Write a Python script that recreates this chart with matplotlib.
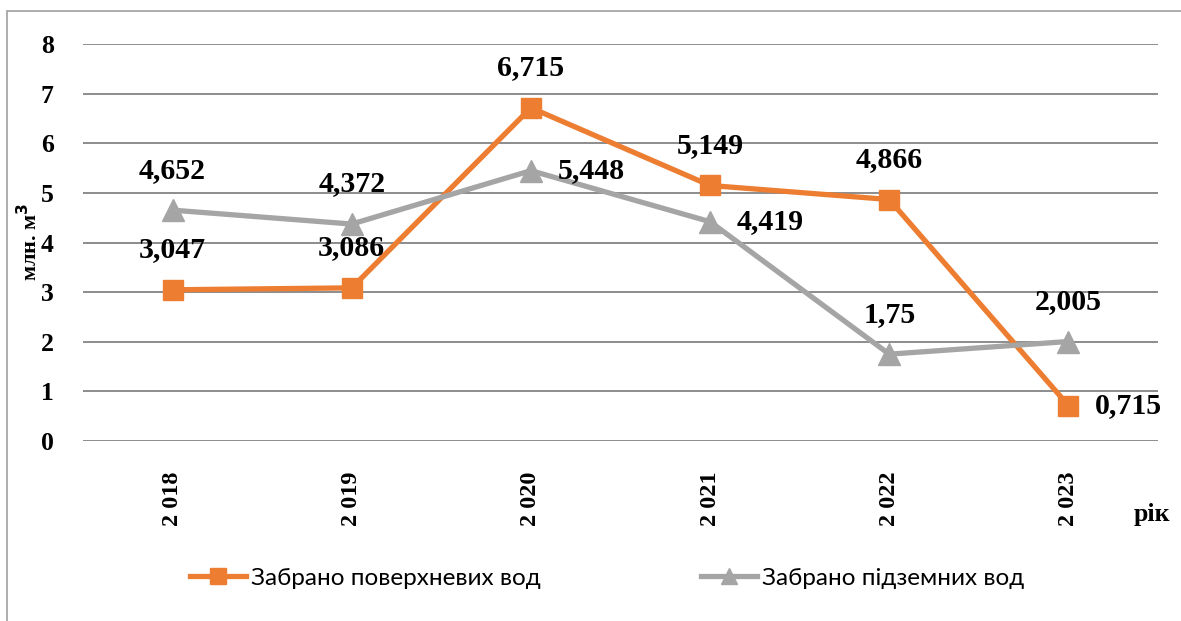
import matplotlib.pyplot as plt
from matplotlib.patches import Rectangle

years = ["2 018", "2 019", "2 020", "2 021", "2 022", "2 023"]
surface = [3.047, 3.086, 6.715, 5.149, 4.866, 0.715]
ground = [4.652, 4.372, 5.448, 4.419, 1.75, 2.005]
surface_lbl = ["3,047", "3,086", "6,715", "5,149", "4,866", "0,715"]
ground_lbl = ["4,652", "4,372", "5,448", "4,419", "1,75", "2,005"]
# where each data label sits: 'a' above, 'r' right
surface_pos = ["a", "a", "a", "a", "a", "r"]
ground_pos = ["a", "a", "r", "r", "a", "a"]

orange = "#ED7D31"
grey = "#A5A5A5"
serif = "Liberation Serif"

fig = plt.figure(figsize=(11.81, 6.21), dpi=100)
ax = fig.add_axes([83/1181, 1 - 441/621, 1075/1181, 397/621])

# outer chart border (runs off right and bottom like the original crop)
fig.patches.append(Rectangle((7/1181, -0.1), 1.2, 1 - 11/621 + 0.1,
                             transform=fig.transFigure, fill=False,
                             edgecolor="#A0A0A0", linewidth=1.2))

x = list(range(len(years)))
ax.plot(x, surface, color=orange, linewidth=3.8, marker="s", markersize=15,
        label="Забрано поверхневих вод", zorder=3)
ax.plot(x, ground, color=grey, linewidth=3.8, marker="^", markersize=16,
        label="Забрано підземних вод", zorder=3)

def put_labels(vals, lbls, pos):
    for i, (v, t, p) in enumerate(zip(vals, lbls, pos)):
        off = (0, 40) if p == "a" else (60, 0)
        ax.annotate(t, (i, v), xytext=off, textcoords="offset pixels",
                    ha="center", va="center", fontsize=21.5, fontweight="bold",
                    family=serif, zorder=4)

put_labels(surface, surface_lbl, surface_pos)
put_labels(ground, ground_lbl, ground_pos)

ax.set_xlim(-0.5, len(years) - 0.5)
ax.set_ylim(0, 8)
ax.set_yticks(range(9))
ax.yaxis.grid(True, color="#8C8C8C", linewidth=1.4)
ax.set_axisbelow(True)
for s in ax.spines.values():
    s.set_visible(False)
ax.tick_params(length=0)
ax.tick_params(axis="y", pad=21)
ax.tick_params(axis="x", pad=22)
ax.set_xticks(x)
ax.set_xticklabels(years, rotation=90, fontsize=17.5, fontweight="bold", family=serif)
for t in ax.get_yticklabels():
    t.set_fontsize(18.5)
    t.set_fontweight("bold")
    t.set_family(serif)

fig.text(30/1181, 1 - 242/621, "млн. м$^\\mathbf{3}$", rotation=90, ha="center",
         va="center", fontsize=16, fontweight="bold", family=serif)
fig.text(1152/1181, 1 - 515/621, "рік", ha="center", va="center", fontsize=18.5,
         fontweight="bold", family=serif)

fig.legend(loc="center", bbox_to_anchor=(607/1181, 1 - 578/621), ncol=2,
           frameon=False, prop={"family": "Lato", "size": 17.5},
           handlelength=2.3, handletextpad=0.2, columnspacing=6.6,
           markerscale=0.75)

fig.savefig("out.png", dpi=100)
